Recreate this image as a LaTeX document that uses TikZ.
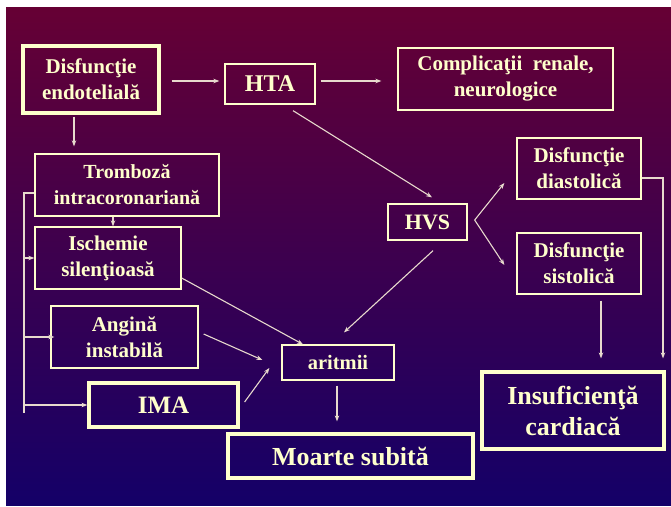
\documentclass[tikz,border=0pt]{standalone}
\usepackage{fontspec}
\setmainfont{Liberation Serif}
\usetikzlibrary{arrows.meta,calc}
\definecolor{bgtop}{RGB}{102,0,52}
\definecolor{bgbot}{RGB}{20,0,104}
\definecolor{cream}{RGB}{255,255,204}
\definecolor{linec}{RGB}{232,218,205}
\tikzset{
  box/.style={draw=cream, line width=1.3pt, text=cream, align=center, inner sep=0pt,
    font=\bfseries\fontsize{21}{26}\selectfont},
  thickbox/.style={box, line width=3.2pt},
  arr/.style={draw=linec, line width=1.1pt, -{Stealth[length=6pt,width=4.5pt]}},
  ln/.style={draw=linec, line width=1.1pt},
}
\begin{document}
\begin{tikzpicture}[x=1pt,y=-1pt]
\useasboundingbox (0,0) rectangle (671,506);
\fill[white] (0,0) rectangle (671,506);
\shade[top color=bgtop, bottom color=bgbot] (6,7) rectangle (671,505);

\node[thickbox, minimum width=136pt, minimum height=67pt] (disf) at (91,79.5) {Disfuncţie\\endotelială};
\node[box, minimum width=90pt, minimum height=40pt, font=\bfseries\fontsize{24}{28}\selectfont] (hta) at (270,84) {HTA};
\node[box, minimum width=215pt, minimum height=62pt] (compl) at (505.5,79) {Complicaţii\ \ renale,\\neurologice};
\node[box, minimum width=79pt, minimum height=36pt, font=\bfseries\fontsize{22}{26}\selectfont] (hvs) at (427.5,222) {HVS};
\node[box, minimum width=124pt, minimum height=61pt] (diast) at (579,168.5) {Disfuncţie\\diastolică};
\node[box, minimum width=124pt, minimum height=61pt] (sist) at (579,263.5) {Disfuncţie\\sistolică};
\node[thickbox, minimum width=182pt, minimum height=77pt, font=\bfseries\fontsize{26}{31}\selectfont] (insuf) at (573,410.5) {Insuficienţă\\cardiacă};
\node[box, minimum width=112pt, minimum height=35pt, font=\bfseries\fontsize{20.5}{24}\selectfont] (arit) at (338,362.5) {aritmii};
\node[thickbox, minimum width=245pt, minimum height=44pt, font=\bfseries\fontsize{26}{30}\selectfont] (moarte) at (350.5,456) {Moarte subită};
\node[box, minimum width=184pt, minimum height=62pt, font=\bfseries\fontsize{20}{26}\selectfont] (tromb) at (127,185) {Tromboză\\intracoronariană};
\node[box, minimum width=146pt, minimum height=62pt] (isch) at (108,258) {Ischemie\\silenţioasă};
\node[box, minimum width=147pt, minimum height=62pt] (ang) at (124.5,337) {Angină\\instabilă};
\node[thickbox, minimum width=149pt, minimum height=44pt, font=\bfseries\fontsize{25}{30}\selectfont] (ima) at (163.5,405) {IMA};

% connectors
\draw[arr] ($(disf.east)+(11,1.5)$) -- ($(hta.west)+(-5,-3)$);
\draw[arr] ($(hta.east)+(5,-3)$) -- ($(compl.west)+(-16,2)$);
\draw[arr] ($(hta.south)+(23,6)$) -- ($(hvs.north)+(4.5,-6)$);
\draw[arr] ($(hvs.east)+(7,-2)$) -- ($(diast.west)+(-12,14.5)$);
\draw[arr] ($(hvs.east)+(7,-2)$) -- ($(sist.west)+(-12,1.5)$);
\draw[arr] ($(diast.east)+(0,9.5)$) -| ($(insuf.north)+(90,-12)$);
\draw[arr] ($(sist.south)+(22,6)$) -- ($(insuf.north)+(28,-12)$);
\draw[arr] ($(hvs.south)+(5.5,10)$) -- ($(arit.north)+(6,-12)$);
\draw[arr] ($(arit.south)+(-1,5)$) -- ($(moarte.north)+(-13.5,-11)$);
\draw[arr] ($(disf.south)+(-17,2)$) -- ($(tromb.north)+(-53,-7)$);
\draw[arr] ($(tromb.south)+(-14,0)$) -- ($(isch.north)+(5,0)$);
\coordinate (busT) at (24,193);
\coordinate (busB) at (24,413);
\draw[ln] ($(tromb.west)+(0,8)$) -- (busT) -- (busB);
\draw[arr] (busT |- isch.west) -- (isch.west);
\draw[arr] (busT |- ang.west) -- ($(ang.west)+(4,0)$);
\draw[arr] (busT |- ima.west) -- (ima.west);
\draw[arr] ($(isch.east)+(0,20)$) -- ($(arit.north)+(-35,0)$);
\draw[arr] ($(ang.east)+(5,-3)$) -- ($(arit.west)+(-19,-2.5)$);
\draw[arr] ($(ima.east)+(5,-3)$) -- ($(arit.west)+(-12,5.5)$);
\end{tikzpicture}
\end{document}
